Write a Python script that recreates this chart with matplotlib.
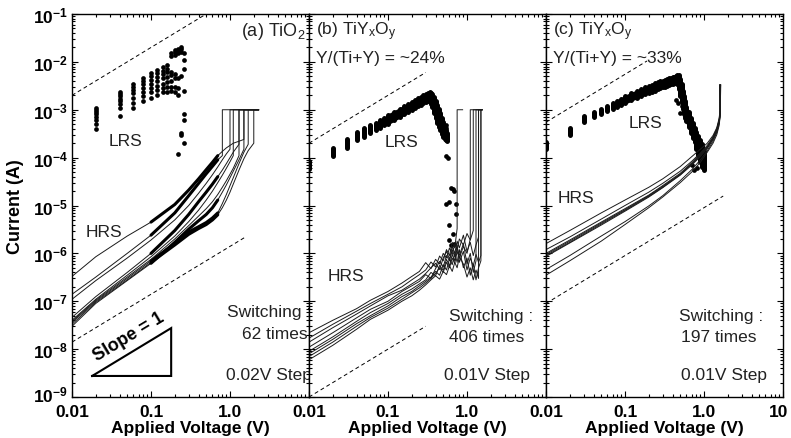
import matplotlib.pyplot as plt
from matplotlib.ticker import FixedLocator, LogLocator, NullFormatter
from matplotlib.transforms import ScaledTranslation

plt.rcParams['font.family'] = ['Liberation Sans', 'DejaVu Sans']
plt.rcParams['mathtext.fontset'] = 'custom'
plt.rcParams['mathtext.rm'] = 'Liberation Sans'
plt.rcParams['mathtext.it'] = 'Liberation Sans:italic'
plt.rcParams['mathtext.bf'] = 'Liberation Sans:bold'

# ---------------- (a) TiO2 ----------------
# LRS read points, one column per sweep voltage
lrs_a_volt = [0.02, 0.04, 0.06, 0.08, 0.10, 0.12, 0.14, 0.16, 0.18, 0.20, 0.22, 0.24, 0.26]
lrs_a_curr = [
    [4e-4, 5e-4, 6e-4, 7e-4, 8e-4, 9e-4, 1.0e-3, 1.1e-3],
    [7.5e-4, 1.1e-3, 1.3e-3, 1.5e-3, 1.7e-3, 1.9e-3, 2.1e-3, 2.3e-3],
    [1.1e-3, 1.4e-3, 1.8e-3, 2.2e-3, 2.6e-3, 3.0e-3, 3.4e-3],
    [1.5e-3, 1.9e-3, 2.4e-3, 2.9e-3, 3.4e-3, 4.0e-3, 4.5e-3],
    [1.8e-3, 2.3e-3, 2.8e-3, 3.5e-3, 4.2e-3, 5.0e-3, 5.8e-3],
    [2.0e-3, 2.6e-3, 3.2e-3, 4.0e-3, 4.8e-3, 5.8e-3, 6.8e-3],
    [2.3e-3, 2.9e-3, 3.5e-3, 4.5e-3, 5.5e-3, 6.5e-3, 7.8e-3],
    [2.4e-3, 3.0e-3, 3.8e-3, 4.8e-3, 6.0e-3, 7.2e-3, 8.8e-3],
    [2.5e-3, 3.0e-3, 4.0e-3, 5.2e-3, 6.0e-3, 1.3e-2, 1.5e-2],
    [2.3e-3, 3.0e-3, 4.5e-3, 5.5e-3, 1.4e-2, 1.6e-2, 1.8e-2],
    [1.2e-4, 2.0e-3, 2.8e-3, 4.5e-3, 1.5e-2, 1.8e-2, 1.9e-2],
    [3.0e-4, 3.2e-4, 5.0e-3, 1.6e-2, 1.9e-2, 2.0e-2],
    [2.0e-4, 6.0e-4, 8.0e-4, 2.5e-3, 7.0e-3, 1.1e-2, 1.5e-2],
]

# HRS set sweeps (each truncated at its set voltage)
hrs_a_volt = [0.01, 0.02, 0.05, 0.1, 0.2, 0.3, 0.4, 0.5, 0.6, 0.7, 0.8, 0.9,
              1.0, 1.1, 1.3, 1.5, 1.7, 2.0]
hrs_a_curr = [
    [3.3e-7, 8.5e-7, 2.3e-6, 4.5e-6, 1.05e-5, 2.1e-5, 3.6e-5, 5.6e-5, 8.0e-5, 1.1e-4,
     1.35e-4, 1.6e-4, 1.8e-4, 2.0e-4, 2.2e-4, 2.4e-4],
    [1.4e-7, 3.2e-7, 1.0e-6, 2.4e-6, 7.0e-6, 1.6e-5, 2.9e-5, 4.6e-5, 6.6e-5, 9.0e-5, 1.1e-4],
    [1.1e-7, 2.7e-7, 8.0e-7, 1.9e-6, 5.0e-6, 1.0e-5, 1.8e-5, 2.9e-5, 4.4e-5, 6.4e-5,
     9.0e-5, 1.2e-4, 1.5e-4],
    [4.6e-8, 1.25e-7, 4.0e-7, 1.0e-6, 3.0e-6, 6.5e-6, 1.2e-5, 1.9e-5, 2.8e-5, 4.0e-5,
     5.5e-5, 7.5e-5, 1.0e-4, 1.3e-4, 1.9e-4],
    [4.0e-8, 1.1e-7, 3.5e-7, 8.5e-7, 2.3e-6, 4.6e-6, 8.0e-6, 1.3e-5, 2.0e-5, 3.0e-5,
     4.3e-5, 6.0e-5, 8.2e-5, 1.1e-4],
    [3.6e-8, 1.0e-7, 3.0e-7, 7.0e-7, 1.6e-6, 2.8e-6, 3.6e-6, 4.4e-6, 5.5e-6, 7.0e-6,
     1.1e-5, 1.7e-5, 2.6e-5, 3.8e-5, 7.5e-5, 1.3e-4, 1.9e-4],
    [3.3e-8, 9.5e-8, 2.8e-7, 6.5e-7, 1.5e-6, 2.5e-6, 3.3e-6, 4.0e-6, 5.0e-6, 6.4e-6,
     9.0e-6, 1.3e-5, 1.9e-5, 2.8e-5, 5.5e-5, 9.5e-5, 1.4e-4, 2.0e-4],
    [3.0e-8, 9.0e-8, 2.7e-7, 6.2e-7, 1.7e-6, 3.2e-6, 4.8e-6, 6.5e-6, 9.0e-6, 1.3e-5,
     1.9e-5, 2.7e-5, 3.8e-5, 5.2e-5, 9.0e-5, 1.5e-4],
    [3.8e-8, 1.05e-7, 3.2e-7, 7.5e-7, 2.0e-6, 3.8e-6, 6.0e-6, 8.6e-6, 1.2e-5, 1.7e-5,
     2.4e-5, 3.3e-5, 4.5e-5, 6.0e-5, 1.1e-4],
]
compliance_a = 1e-3
vmax_a = 2.3

# ---------------- (b) TiYxOy, 24 % ----------------
lrs_b_volt = [0.01, 0.02, 0.03, 0.04, 0.05, 0.06, 0.07, 0.08, 0.09, 0.10, 0.12, 0.14,
              0.16, 0.18, 0.20, 0.22, 0.24, 0.26, 0.28, 0.30, 0.32, 0.34,
              0.35, 0.36, 0.38, 0.40, 0.42, 0.44, 0.46, 0.48, 0.50, 0.52, 0.54, 0.56]
lrs_b_low = [5.9e-5, 1.1e-4, 1.6e-4, 2.3e-4, 2.7e-4, 3.2e-4, 3.7e-4, 4.2e-4, 4.7e-4,
             5.1e-4, 6.1e-4, 7.0e-4, 8.0e-4, 9.0e-4, 1.0e-3, 1.09e-3, 1.18e-3, 1.28e-3,
             1.37e-3, 1.46e-3, 1.55e-3, 1.6e-3,
             1.35e-3, 1.15e-3, 8.6e-4, 6.7e-4, 5.4e-4, 4.4e-4, 3.7e-4, 3.1e-4, 2.7e-4,
             2.5e-4, 2.3e-4, 2.2e-4]
lrs_b_high = [8.5e-5, 1.6e-4, 2.5e-4, 3.4e-4, 4.2e-4, 4.8e-4, 5.4e-4, 6.0e-4, 6.6e-4,
              7.8e-4, 9.1e-4, 1.05e-3, 1.18e-3, 1.32e-3, 1.46e-3, 1.6e-3, 1.73e-3, 1.87e-3,
              2.0e-3, 2.13e-3, 2.25e-3, 2.3e-3,
              2.28e-3, 2.15e-3, 1.85e-3, 1.55e-3, 1.25e-3, 1.05e-3, 8.4e-4, 6.8e-4, 5.5e-4,
              4.5e-4, 3.8e-4, 3.2e-4]
reset_b_volt = [0.54, 0.55, 0.54, 0.57, 0.62, 0.66, 0.68, 0.54, 0.72, 0.72, 0.59, 0.66,
                0.59, 0.62, 0.68, 0.56, 0.60]
reset_b_curr = [4.7e-4, 4.2e-4, 1.1e-4, 1.0e-4, 2.3e-5, 2.2e-5, 2.0e-5, 1.1e-5, 1.05e-5,
                6.5e-6, 4.0e-6, 2.5e-6, 1.9e-6, 1.5e-6, 1.6e-6, 2.3e-4, 1.2e-5]

hrs_b_volt = [0.01, 0.02, 0.04, 0.06, 0.1, 0.15, 0.2, 0.25, 0.3, 0.35, 0.4, 0.45, 0.5,
              0.55, 0.6, 0.65, 0.7, 0.75, 0.8, 0.9, 1.0, 1.1, 1.2, 1.3, 1.4, 1.5]
hrs_b_curr = [
    [2.2e-8, 4.0e-8, 7.0e-8, 1.05e-7, 1.6e-7, 2.4e-7, 3.3e-7, 4.2e-7, 6.4e-7, 4.8e-7,
     7.5e-7, 6.0e-7, 1.0e-6, 8.0e-7, 1.3e-6, 9.5e-7, 1.6e-6, 1.2e-6, 2.0e-6, 1.5e-6,
     2.6e-6, 1.9e-6, 3.0e-6],
    [1.7e-8, 3.3e-8, 6.2e-8, 9.0e-8, 1.4e-7, 2.0e-7, 2.8e-7, 3.6e-7, 4.5e-7, 6.6e-7,
     5.2e-7, 8.8e-7, 7.0e-7, 1.2e-6, 9.0e-7, 1.7e-6, 1.3e-6, 3.3e-6],
    [1.4e-8, 2.8e-8, 5.4e-8, 8.0e-8, 1.3e-7, 1.7e-7, 2.3e-7, 2.9e-7, 3.8e-7, 5.0e-7,
     6.2e-7, 4.6e-7, 8.0e-7, 1.1e-6, 7.5e-7, 1.4e-6, 1.0e-6, 1.8e-6, 1.3e-6, 2.4e-6,
     1.1e-6, 1.7e-6, 9.0e-7, 1.5e-6, 2.2e-6],
    [1.1e-8, 2.2e-8, 4.5e-8, 6.8e-8, 1.0e-7, 1.6e-7, 2.1e-7, 2.6e-7, 3.6e-7, 3.0e-7,
     4.8e-7, 6.8e-7, 5.2e-7, 9.0e-7, 7.0e-7, 1.2e-6, 8.5e-7, 1.5e-6, 6.5e-7, 1.1e-6,
     4.5e-7, 8.0e-7, 5.5e-7, 9.5e-7, 6.5e-7, 9.0e-7],
    [9.0e-9, 1.8e-8, 3.8e-8, 5.8e-8, 9.0e-8, 1.4e-7, 1.8e-7, 2.3e-7, 2.8e-7, 4.0e-7,
     3.4e-7, 5.6e-7, 4.4e-7, 7.5e-7, 5.5e-7, 9.5e-7, 7.0e-7, 1.3e-6, 9.0e-7, 1.6e-6,
     6.0e-7, 1.0e-6, 4.0e-7, 7.0e-7],
    [8.0e-9, 1.6e-8, 3.4e-8, 5.0e-8, 8.0e-8, 1.25e-7, 1.6e-7, 2.1e-7, 2.6e-7, 3.2e-7,
     4.2e-7, 3.5e-7, 5.8e-7, 4.5e-7, 7.8e-7, 5.8e-7, 1.0e-6, 6.5e-7, 1.2e-6, 5.0e-7,
     8.0e-7, 3.5e-7, 6.0e-7, 2.8e-7, 5.0e-7, 7.0e-7],
    [7.0e-9, 1.4e-8, 3.0e-8, 4.6e-8, 7.2e-8, 1.1e-7, 1.5e-7, 1.9e-7, 2.4e-7, 3.0e-7,
     3.8e-7, 5.0e-7, 4.0e-7, 6.5e-7, 5.0e-7, 8.0e-7, 6.2e-7, 1.1e-6, 8.0e-7, 1.4e-6,
     1.0e-6, 2.0e-6],
    [6.0e-9, 1.2e-8, 2.6e-8, 4.2e-8, 6.5e-8, 1.0e-7, 1.3e-7, 1.7e-7, 2.2e-7, 2.8e-7,
     3.4e-7, 2.9e-7, 4.2e-7, 3.6e-7, 5.5e-7, 4.2e-7, 6.5e-7, 5.0e-7, 8.5e-7, 6.0e-7,
     3.2e-7, 5.0e-7, 2.8e-7, 4.5e-7, 3.0e-7],
]
hrs_b_end = [1.55, 0.88, 1.55, 1.55, 1.55, 1.55, 1.55, 1.55]
compliance_b = 1e-3

# ---------------- (c) TiYxOy, 33 % ----------------
lrs_c_volt = [0.01, 0.02, 0.03, 0.04, 0.05, 0.06, 0.07, 0.08, 0.09, 0.10, 0.12, 0.14,
              0.16, 0.18, 0.20, 0.22, 0.24, 0.26, 0.28, 0.30, 0.32, 0.34, 0.36, 0.38,
              0.40, 0.42, 0.44,
              0.46, 0.48, 0.50, 0.52, 0.54, 0.56, 0.58, 0.60, 0.64, 0.68, 0.72, 0.76,
              0.80, 0.85, 0.90, 0.95, 1.00]
lrs_c_low = [1.55e-4, 2.9e-4, 5.5e-4, 7.0e-4, 8.2e-4, 9.4e-4, 1.05e-3, 1.16e-3, 1.27e-3,
             1.38e-3, 1.58e-3, 1.78e-3, 1.93e-3, 2.1e-3, 2.25e-3, 2.4e-3, 2.52e-3, 2.68e-3,
             2.8e-3, 2.92e-3, 3.04e-3, 3.16e-3, 3.27e-3, 3.4e-3, 3.47e-3, 3.56e-3, 3.6e-3,
             3.4e-3, 2.7e-3, 1.9e-3, 1.45e-3, 1.05e-3, 8.2e-4, 6.7e-4, 5.7e-4, 4.3e-4,
             3.3e-4, 2.6e-4, 2.1e-4, 1.5e-4, 1.15e-4, 8.5e-5, 6.5e-5, 5.5e-5]
lrs_c_high = [2.1e-4, 4.1e-4, 7.5e-4, 9.0e-4, 1.05e-3, 1.2e-3, 1.38e-3, 1.55e-3, 1.7e-3,
              1.92e-3, 2.2e-3, 2.45e-3, 2.7e-3, 2.92e-3, 3.13e-3, 3.33e-3, 3.55e-3, 3.75e-3,
              3.9e-3, 4.06e-3, 4.22e-3, 4.37e-3, 4.53e-3, 4.7e-3, 4.8e-3, 4.9e-3, 4.95e-3,
              5.4e-3, 5.2e-3, 4.4e-3, 3.4e-3, 2.5e-3, 1.9e-3, 1.5e-3, 1.15e-3, 9.0e-4,
              6.8e-4, 5.3e-4, 4.2e-4, 3.4e-4, 2.8e-4, 2.3e-4, 1.9e-4, 1.4e-4]
reset_c_volt = [0.44, 0.47, 0.50, 0.52, 0.70, 0.75, 0.82, 0.88]
reset_c_curr = [1.6e-3, 1.4e-3, 8.5e-4, 1.2e-3, 7.0e-5, 5.5e-5, 6.0e-5, 8.0e-5]

hrs_c_volt = [0.01, 0.02, 0.05, 0.1, 0.2, 0.3, 0.5, 0.7, 0.9, 1.1, 1.3, 1.45, 1.55, 1.6]
hrs_c_curr = [
    [1.6e-6, 3.0e-6, 7.0e-6, 1.3e-5, 2.4e-5, 3.6e-5, 6.5e-5, 1.05e-4, 1.5e-4, 2.0e-4,
     2.9e-4, 4.2e-4, 6.5e-4, 1.0e-3],
    [1.2e-6, 2.2e-6, 5.2e-6, 1.0e-5, 1.9e-5, 2.9e-5, 5.2e-5, 8.4e-5, 1.25e-4, 1.8e-4,
     2.7e-4, 4.0e-4, 6.0e-4, 9.0e-4],
    [1.0e-6, 1.9e-6, 4.5e-6, 8.6e-6, 1.65e-5, 2.6e-5, 4.7e-5, 7.8e-5, 1.2e-4, 1.7e-4,
     2.6e-4, 3.9e-4, 5.8e-4, 8.8e-4],
    [9.5e-7, 1.8e-6, 4.3e-6, 8.2e-6, 1.6e-5, 2.5e-5, 4.5e-5, 7.5e-5, 1.15e-4, 1.65e-4,
     2.5e-4, 3.7e-4, 5.5e-4, 8.5e-4],
    [9.0e-7, 1.7e-6, 4.1e-6, 7.9e-6, 1.55e-5, 2.4e-5, 4.4e-5, 7.3e-5, 1.1e-4, 1.6e-4,
     2.45e-4, 3.6e-4, 5.4e-4, 8.2e-4],
    [8.6e-7, 1.65e-6, 3.9e-6, 7.6e-6, 1.5e-5, 2.35e-5, 4.3e-5, 7.0e-5, 1.05e-4, 1.55e-4,
     2.4e-4, 3.5e-4, 5.2e-4, 8.0e-4],
    [4.6e-7, 9.0e-7, 2.3e-6, 4.6e-6, 9.8e-6, 1.6e-5, 3.3e-5, 5.6e-5, 9.0e-5, 1.4e-4,
     2.2e-4, 3.3e-4, 5.0e-4, 7.5e-4],
    [3.5e-7, 7.0e-7, 1.8e-6, 4.0e-6, 9.0e-6, 1.5e-5, 3.0e-5, 5.0e-5, 8.0e-5, 1.3e-4,
     2.0e-4, 3.0e-4, 4.6e-4, 7.0e-4],
]
hrs_c_set = [1.62, 1.6, 1.58, 1.6, 1.63, 1.57, 1.6, 1.62]
compliance_c = 3.3e-3

# slope-1 guide lines (voltage ends, current ends)
guide_a = [([0.01, 0.5], [2.0e-3, 1.0e-1]), ([0.01, 1.6], [1.4e-8, 2.24e-6])]
guide_b = [([0.01, 0.3], [2.0e-4, 6.0e-3]), ([0.01, 0.3], [1.0e-9, 3.0e-8])]
guide_c = [([0.01, 0.19], [5.5e-4, 1.045e-2]), ([0.01, 1.75], [9.0e-8, 1.575e-5])]
slope_tri_v = [0.018, 0.18, 0.18, 0.018]
slope_tri_i = [2.75e-9, 2.75e-9, 2.75e-8, 2.75e-9]

y_ticks = [1e-9, 1e-8, 1e-7, 1e-6, 1e-5, 1e-4, 1e-3, 1e-2, 1e-1]
y_labels = [r'$\mathbf{10^{-%d}}$' % k for k in range(9, 0, -1)]
x_ticks = [0.01, 0.1, 1, 10]

fig = plt.figure(figsize=(7.91, 4.39), dpi=100)
W, H = 791, 439
lefts = [72, 309, 546]
axes = [fig.add_axes([l / W, 41 / H, 237 / W, 383 / H]) for l in lefts]

for i, ax in enumerate(axes):
    ax.set_xscale('log')
    ax.set_yscale('log')
    ax.set_xlim(0.01, 10)
    ax.set_ylim(1e-9, 1e-1)
    ax.xaxis.set_major_locator(FixedLocator(x_ticks))
    ax.set_xticklabels(['0.01', '0.1', '1.0', '10' if i == 2 else ''],
                       fontweight='bold', fontsize=12.5)
    ax.xaxis.set_minor_locator(LogLocator(base=10, subs=range(2, 10)))
    ax.xaxis.set_minor_formatter(NullFormatter())
    ax.yaxis.set_major_locator(FixedLocator(y_ticks))
    ax.yaxis.set_minor_locator(LogLocator(base=10, subs=range(2, 10), numticks=20))
    ax.yaxis.set_minor_formatter(NullFormatter())
    if i == 0:
        ax.set_yticklabels(y_labels, fontsize=12.5)
    else:
        ax.set_yticklabels([])
    ax.tick_params(which='both', direction='in', top=True, right=True, width=0.8)
    ax.tick_params(which='major', length=4.5, pad=3)
    ax.tick_params(axis='x', which='major', pad=5)
    ax.tick_params(which='minor', length=2.2)
    for s in ax.spines.values():
        s.set_linewidth(1.0)
    ax.set_xlabel('Applied Voltage (V)', fontweight='bold', fontsize=12.5, labelpad=0.5)

# keep the last "10" inside the figure and lift the lowest decade label a touch
last = axes[2].get_xticklabels()[-1]
last.set_transform(last.get_transform() + ScaledTranslation(-4 / 100, 0, fig.dpi_scale_trans))
low = axes[0].get_yticklabels()[0]
low.set_transform(low.get_transform() + ScaledTranslation(0, 4 / 100, fig.dpi_scale_trans))

fig.text(0.019, 0.53, 'Current (A)', rotation=90, fontweight='bold', fontsize=13,
         ha='center', va='center')

txt = dict(fontsize=12.5, color='#222222')
dash = dict(color='k', lw=0.7, dashes=(4, 3))


def lrs_band(ax, volt, low, high, start):
    # separate read columns at low bias, a solid band once the columns merge
    ax.vlines(volt, low, high, colors='k', linewidth=3.6, capstyle='round')
    ax.fill_between(volt[start:], low[start:], high[start:], color='k', lw=1.5,
                    edgecolor='k')


# ---- panel (a)
ax = axes[0]
for v, cur in zip(lrs_a_volt, lrs_a_curr):
    ax.plot([v] * len(cur), cur, 'o', color='k', ms=3.4, mew=0)
for k, cur in enumerate(hrs_a_curr):
    v = hrs_a_volt[:len(cur)]
    ax.plot(v + [v[-1], vmax_a], cur + [compliance_a, compliance_a], color='#1a1a1a', lw=0.7)
    # densely sampled stretch of each sweep
    sel = [j for j, x in enumerate(v) if 0.1 <= x <= 0.7]
    if k in (0, 1, 3, 5, 6, 7):
        ax.plot([v[j] for j in sel], [cur[j] for j in sel], color='k', lw=2.2,
                solid_capstyle='round')
for gv, gi in guide_a:
    ax.plot(gv, gi, **dash)
ax.plot(slope_tri_v, slope_tri_i, color='k', lw=1.5, solid_joinstyle='miter')
ax.text(0.052, 1.9e-8, 'Slope = 1', rotation=31, rotation_mode='anchor', ha='center',
        va='center', fontweight='bold', fontsize=13)
ax.text(0.985, 0.985, r'(a) TiO$_\mathrm{2}$', transform=ax.transAxes, ha='right',
        va='top', fontsize=13, color='#222222')
ax.text(0.225, 0.67, 'LRS', transform=ax.transAxes, ha='center', va='center', **txt)
ax.text(0.135, 0.433, 'HRS', transform=ax.transAxes, ha='center', va='center', **txt)
ax.text(0.83, 0.222, 'Switching :', transform=ax.transAxes, ha='center', va='center', **txt)
ax.text(0.855, 0.167, '62 times', transform=ax.transAxes, ha='center', va='center', **txt)
ax.text(0.83, 0.058, '0.02V Step', transform=ax.transAxes, ha='center', va='center', **txt)

# ---- panel (b)
ax = axes[1]
lrs_band(ax, lrs_b_volt, lrs_b_low, lrs_b_high, 8)
ax.plot(reset_b_volt, reset_b_curr, 'o', color='k', ms=3.4, mew=0)
for cur, vend in zip(hrs_b_curr, hrs_b_end):
    v = hrs_b_volt[:len(cur)]
    ax.plot(v + [v[-1], vend], cur + [compliance_b, compliance_b], color='#1a1a1a', lw=0.7)
for gv, gi in guide_b:
    ax.plot(gv, gi, **dash)
ax.text(0.03, 0.985, r'(b) TiY$_\mathrm{x}$O$_\mathrm{y}$', transform=ax.transAxes,
        ha='left', va='top', **txt)
ax.text(0.03, 0.905, 'Y/(Ti+Y) = ~24%', transform=ax.transAxes, ha='left', va='top', **txt)
ax.text(0.39, 0.668, 'LRS', transform=ax.transAxes, ha='center', va='center', **txt)
ax.text(0.157, 0.316, 'HRS', transform=ax.transAxes, ha='center', va='center', **txt)
ax.text(0.77, 0.214, 'Switching :', transform=ax.transAxes, ha='center', va='center', **txt)
ax.text(0.75, 0.159, '406 times', transform=ax.transAxes, ha='center', va='center', **txt)
ax.text(0.75, 0.06, '0.01V Step', transform=ax.transAxes, ha='center', va='center', **txt)

# ---- panel (c)
ax = axes[2]
lrs_band(ax, lrs_c_volt, lrs_c_low, lrs_c_high, 7)
ax.plot(reset_c_volt, reset_c_curr, 'o', color='k', ms=3.4, mew=0)
for cur, vset in zip(hrs_c_curr, hrs_c_set):
    v = hrs_c_volt[:len(cur)]
    ax.plot(v + [vset], cur + [compliance_c], color='#1a1a1a', lw=0.7)
for gv, gi in guide_c:
    ax.plot(gv, gi, **dash)
ax.text(0.03, 0.985, r'(c) TiY$_\mathrm{x}$O$_\mathrm{y}$', transform=ax.transAxes,
        ha='left', va='top', **txt)
ax.text(0.03, 0.905, 'Y/(Ti+Y) = ~33%', transform=ax.transAxes, ha='left', va='top', **txt)
ax.text(0.418, 0.718, 'LRS', transform=ax.transAxes, ha='center', va='center', **txt)
ax.text(0.127, 0.522, 'HRS', transform=ax.transAxes, ha='center', va='center', **txt)
ax.text(0.74, 0.214, 'Switching :', transform=ax.transAxes, ha='center', va='center', **txt)
ax.text(0.73, 0.159, '197 times', transform=ax.transAxes, ha='center', va='center', **txt)
ax.text(0.75, 0.06, '0.01V Step', transform=ax.transAxes, ha='center', va='center', **txt)

fig.savefig('out.png', dpi=100)
